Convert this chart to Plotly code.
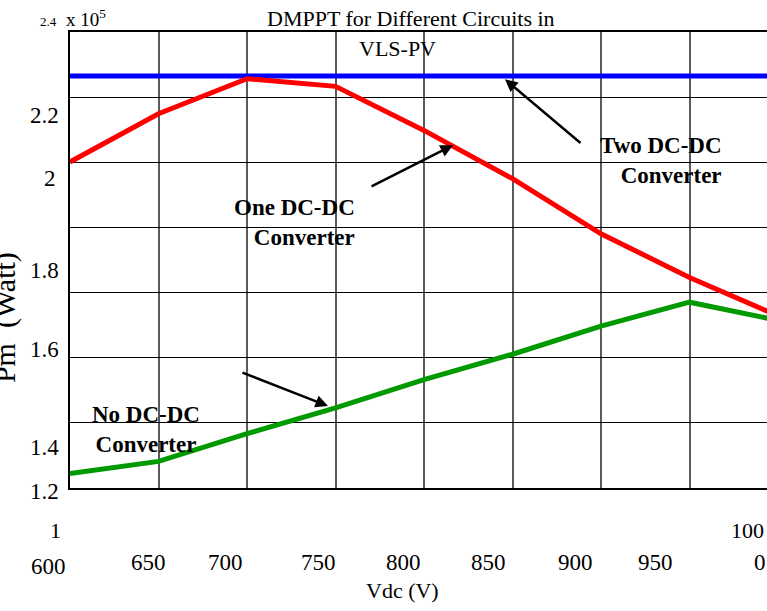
import plotly.graph_objects as go

# ---- data -------------------------------------------------------------
vdc = [600, 650, 700, 750, 800, 850, 900, 950, 1000]
pm_two_dcdc = [228400] * 9
pm_one_dcdc = [205800, 218500, 227700, 225700, 214100, 201400, 186900, 175400, 165300]
pm_no_dcdc = [123800, 127000, 134300, 141100, 148500, 155200, 162600, 168900, 164100]

x_tick_text = ["600", "650", "700", "750", "800", "850", "900", "950", "0"]
x_tick_text_upper = ["1", "100"]
y_tick_text = ["2.2", "2", "1.8", "1.6", "1.4", "1.2"]

# ---- geometry of the axes box (pixels) ----------------------------------
W, H = 767, 611
L, R, T, B = 70, 767, 31.7, 488
PX_PER_V = 88.5 / 50.0
X_RANGE = [600, 600 + (R - L) / PX_PER_V]
Y_RANGE = [120000, 240000]
y_grid = [Y_RANGE[0] + k * (Y_RANGE[1] - Y_RANGE[0]) / 7 for k in range(8)]


def paper(x, y):
    return (x - L) / (R - L), (B - y) / (B - T)


SERIF = "Liberation Serif, Times New Roman, serif"

fig = go.Figure()
fig.add_trace(go.Scatter(x=vdc, y=pm_two_dcdc, mode="lines",
                         line=dict(color="#0000ff", width=5), name="Two DC-DC"))
fig.add_trace(go.Scatter(x=vdc, y=pm_one_dcdc, mode="lines",
                         line=dict(color="#ff0000", width=5), name="One DC-DC"))
fig.add_trace(go.Scatter(x=vdc, y=pm_no_dcdc, mode="lines",
                         line=dict(color="#009a00", width=5), name="No DC-DC"))

annotations = []


def label(text, x, y, size=22, bold=False, **kw):
    xp, yp = paper(x, y)
    if bold:
        text = "<b>" + text + "</b>"
    annotations.append(dict(text=text, x=xp, y=yp, xref="paper", yref="paper",
                            showarrow=False, xanchor=kw.pop("xanchor", "center"),
                            yanchor=kw.pop("yanchor", "middle"),
                            font=dict(family=SERIF, size=size, color="black"), **kw))


# title in two lines
label("DMPPT for Different Circuits in", 411, 18, size=22)
label("VLS-PV", 397, 48, size=22)

# exponent marker
label("2.4", 48, 21, size=13)
label("x 10<sup>5</sup>", 86, 18, size=19)

# y tick labels
for txt, (x, y) in zip(y_tick_text, [(44, 115), (50, 178), (44, 270), (44, 349), (44, 447), (44, 492)]):
    label(txt, x, y, size=23)

# x tick labels
x_pos = [48, 148, 225, 318, 403, 488, 575, 655, 760]
for i, (txt, x) in enumerate(zip(x_tick_text, x_pos)):
    label(txt, x, 567 if i == 0 else 563, size=23)
for txt, x in zip(x_tick_text_upper, [55, 747]):
    label(txt, x, 531, size=22)

label("Vdc (V)", 402, 591, size=22)

# y axis title, rotated and partly beyond the page edge
xp, yp = paper(24, 318)
annotations.append(dict(text="Pm  (Watt)", x=xp, y=yp, xref="paper", yref="paper",
                        showarrow=False, textangle=-90, xanchor="right", yanchor="middle",
                        font=dict(family=SERIF, size=30, color="black")))

# curve captions
label("Two DC-DC<br>Converter", 724, 160, size=23, bold=True, xanchor="right", align="right")
label("One DC-DC<br>Converter", 357, 222, size=23, bold=True, xanchor="right", align="right")
label("No DC-DC<br>Converter", 146, 429, size=23, bold=True, align="center")

# arrows pointing at the curves
for (hx, hy), (tx, ty) in [((505, 79), (582, 144)),
                           ((453, 145), (370, 187)),
                           ((328, 406), (241, 372))]:
    xp, yp = paper(hx, hy)
    annotations.append(dict(text="", x=xp, y=yp, xref="paper", yref="paper",
                            showarrow=True, ax=tx - hx, ay=ty - hy,
                            arrowhead=2, arrowsize=1, arrowwidth=2.5, arrowcolor="black"))

fig.update_layout(
    width=W, height=H,
    margin=dict(l=L, r=W - R, t=T, b=H - B, pad=0),
    paper_bgcolor="white", plot_bgcolor="white",
    showlegend=False,
    annotations=annotations,
    xaxis=dict(range=X_RANGE, tickvals=vdc, showticklabels=False,
               showgrid=True, gridcolor="#5a5a5a", gridwidth=1.5,
               showline=True, linecolor="black", linewidth=1.5, mirror=True,
               ticks="", zeroline=False),
    yaxis=dict(range=Y_RANGE, tickvals=y_grid, showticklabels=False,
               showgrid=True, gridcolor="black", gridwidth=1,
               showline=True, linecolor="black", linewidth=1.5, mirror=False,
               ticks="", zeroline=False),
)

fig.write_html("out.html")
